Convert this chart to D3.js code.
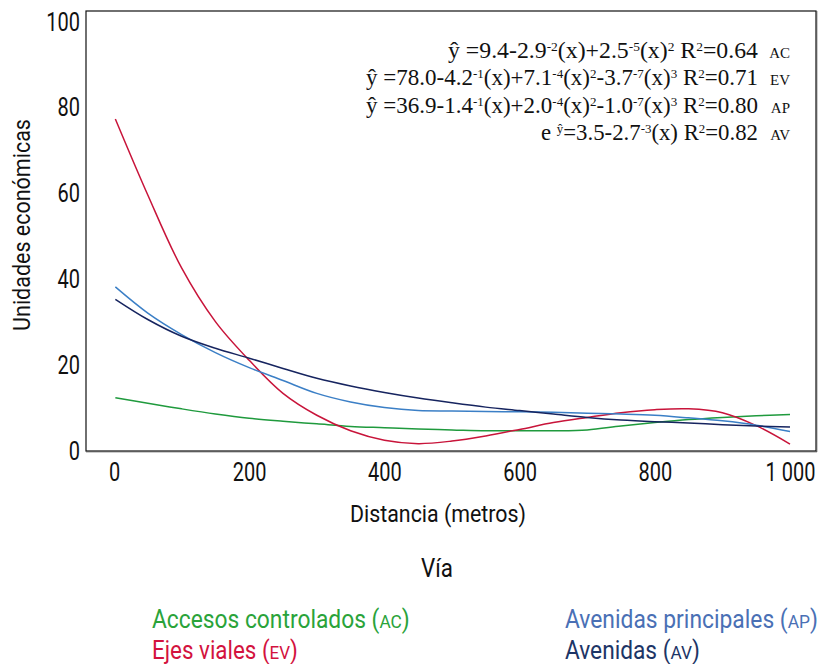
<!DOCTYPE html>
<html><head><meta charset="utf-8">
<script src="https://cdn.jsdelivr.net/npm/d3@7"></script>
<style>
body{margin:0;background:#fff;}
svg{display:block;}
.cond{font-family:"Roboto","DejaVu Sans Condensed",sans-serif;}
.serif{font-family:"Liberation Serif","DejaVu Serif",serif;}
</style></head>
<body><svg id="c" width="819" height="664"></svg>
<script>
const distances = [2,50,100,150,200,250,300,350,400,450,500,550,600,650,700,750,800,850,900,950,1000];
const seriesAC = [12.3,11.0,9.7,8.5,7.5,6.8,6.2,5.6,5.3,5.0,4.8,4.6,4.6,4.6,4.8,5.7,6.5,7.2,7.7,8.1,8.4];
const seriesEV = [77.2,59.5,42.5,30.0,21.0,13.3,8.2,4.6,2.4,1.6,2.2,3.4,4.9,6.5,7.7,8.8,9.5,9.7,8.8,5.8,1.5];
const seriesAP = [38.1,32.0,27.0,22.8,19.3,16.3,13.3,11.3,10.0,9.3,9.2,9.1,9.0,8.9,8.7,8.5,8.2,7.6,6.9,5.9,4.4];
const seriesAV = [35.2,30.5,26.6,23.8,21.5,19.1,16.8,15.0,13.5,12.2,11.1,10.1,9.3,8.5,7.7,7.1,6.7,6.4,6.0,5.7,5.5];
const xTicks = [0,200,400,600,800,1000];
const xTickLabels = ["0","200","400","600","800","1 000"];
const yTicks = [0,20,40,60,80,100];
const seriesKeys = ["AC","EV","AP","AV"];
const seriesNames = ["Accesos controlados","Ejes viales","Avenidas principales","Avenidas"];
const lineColors = ["#1f9a3d","#c8143a","#3b7fc6","#16245f"];
const legendColors = ["#2aa33a","#d3123e","#4a70b5","#1d3566"];
const equations = [
  [["ŷ =9.4-2.9"],["-2",1],["(x)+2.5"],["-5",1],["(x)"],["2",1],[" R"],["2",1],["=0.64"]],
  [["ŷ =78.0-4.2"],["-1",1],["(x)+7.1"],["-4",1],["(x)"],["2",1],["-3.7"],["-7",1],["(x)"],["3",1],[" R"],["2",1],["=0.71"]],
  [["ŷ =36.9-1.4"],["-1",1],["(x)+2.0"],["-4",1],["(x)"],["2",1],["-1.0"],["-7",1],["(x)"],["3",1],[" R"],["2",1],["=0.80"]],
  [["e "],["ŷ",1],["=3.5-2.7"],["-3",1],["(x) R"],["2",1],["=0.82"]]
];
const seriesValues = [seriesAC, seriesEV, seriesAP, seriesAV];

const svg = d3.select("#c");
const x = d3.scaleLinear().domain([0,1000]).range([114,790]);
const y = d3.scaleLinear().domain([0,100]).range([450.5,21]);
const pL=86, pR=816, pT=11, pB=451;
const SX = 0.8;

// condensed text helper: scale horizontally to a target width
function ctext(parent, px, py, anchor, size, fill, targetW, rot){
  const g = parent.append("g").attr("transform",`translate(${px},${py})` + (rot?` rotate(${rot})`:""));
  const t = g.append("text").attr("class","cond").attr("text-anchor",anchor).attr("font-size",size).attr("fill",fill);
  t.fit = ()=>{ const w = t.node().getComputedTextLength(); t.attr("transform",`scale(${targetW/w},1)`); };
  return t;
}

// frame
svg.append("rect").attr("x",pL).attr("y",pT).attr("width",pR-pL).attr("height",pB-pT)
  .attr("fill","none").attr("stroke","#111").attr("stroke-width",1.2);
svg.append("line").attr("x1",pL).attr("x2",pR+1).attr("y1",pB+0.8).attr("y2",pB+0.8).attr("stroke","#555").attr("stroke-width",1);
svg.append("line").attr("x1",pR+0.8).attr("x2",pR+0.8).attr("y1",pT).attr("y2",pB+1).attr("stroke","#555").attr("stroke-width",1);

// axes (labels only)
const yAxis = d3.axisLeft(y).tickValues(yTicks).tickSize(0).tickPadding(7.5).tickFormat(d3.format("d"));
const gy = svg.append("g").attr("transform",`translate(${pL},0)`).call(yAxis);
gy.select(".domain").remove();
gy.selectAll("text").attr("class","cond").attr("font-size",25).attr("fill","#111").attr("dy","0.36em")
  .attr("transform",`scale(${SX},1)`);

const xAxis = d3.axisBottom(x).tickValues(xTicks).tickSize(0).tickPadding(12).tickFormat((d,i)=>xTickLabels[i]);
const gx = svg.append("g").attr("transform",`translate(0,${pB})`).call(xAxis);
gx.select(".domain").remove();
gx.selectAll("text").attr("class","cond").attr("font-size",25).attr("fill","#111")
  .attr("transform",`scale(${SX},1)`);

const xt = ctext(svg, 438, 522, "middle", 24, "#111", 176); xt.text("Distancia (metros)"); xt.fit();
const yt = ctext(svg, 30, 225, "middle", 24, "#111", 212, -90); yt.text("Unidades económicas"); yt.fit();

// lines
const line = d3.line().x((d,i)=>x(distances[i])).y(d=>y(d)).curve(d3.curveCatmullRom.alpha(0.5));
seriesValues.forEach((vals,k)=>{
  svg.append("path").datum(vals).attr("d",line).attr("fill","none")
    .attr("stroke",lineColors[k]).attr("stroke-width",1.5);
});

// equations
equations.forEach((eq,i)=>{
  const yy = 58 + i*27.3;
  const t = svg.append("text").attr("class","serif").attr("x",758).attr("y",yy).attr("text-anchor","end")
    .attr("font-size",23).attr("fill","#111");
  eq.forEach(seg=>{
    const ts = t.append("tspan").text(seg[0]);
    if(seg[1]){ ts.attr("font-size",13).attr("baseline-shift","55%"); }
  });
  const w = t.node().getComputedTextLength();
  const target = [310,392,392,217][i];
  t.attr("textLength", target).attr("lengthAdjust","spacingAndGlyphs");
  svg.append("text").attr("class","serif").attr("x",790).attr("y",yy).attr("text-anchor","end")
    .attr("font-size",15).attr("fill","#111").text(seriesKeys[i]);
});

// legend
const vt = ctext(svg, 437, 577, "middle", 25, "#111", 32); vt.text("Vía"); vt.fit();
const legPos = [[152,628],[152,659],[565,628],[565,659]];
const legW = [258,146,253,135];
seriesNames.forEach((n,k)=>{
  const t = ctext(svg, legPos[k][0], legPos[k][1], "start", 25, legendColors[k], legW[k]);
  t.append("tspan").text(n+" (");
  t.append("tspan").attr("font-size",19).text(seriesKeys[k]);
  t.append("tspan").text(")");
  t.fit();
});
</script></body></html>
